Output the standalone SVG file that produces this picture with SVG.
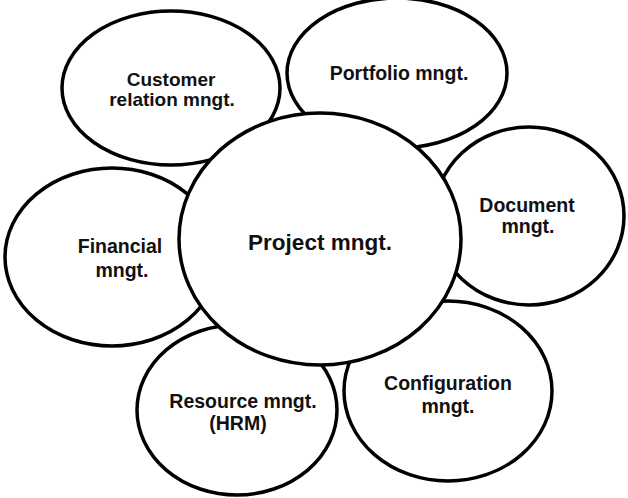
<svg xmlns="http://www.w3.org/2000/svg" width="628" height="498" viewBox="0 0 628 498">
<style>
.n ellipse{fill:#fff;stroke:#000;stroke-width:3.5}
text{font-family:"Liberation Sans",Arial,sans-serif;font-weight:bold;font-size:19.5px;fill:#111;text-anchor:middle}
.big{font-size:22.5px}
.sm{font-size:19px}
</style>
<rect width="628" height="498" fill="#fff"/>
<g id="connectors"></g>
<g id="customer" class="n"><ellipse cx="171" cy="88" rx="109" ry="77"/><text class="sm" x="171" y="86">Customer</text><text class="sm" x="172" y="106">relation mngt.</text></g>
<g id="portfolio" class="n"><ellipse cx="397" cy="73" rx="110" ry="75"/><text x="399" y="80">Portfolio mngt.</text></g>
<g id="document" class="n"><ellipse cx="529" cy="216" rx="95" ry="89"/><text x="527" y="212">Document</text><text x="528" y="233">mngt.</text></g>
<g id="financial" class="n"><ellipse cx="112" cy="257" rx="107" ry="89"/><text x="120" y="253">Financial</text><text x="122" y="277">mngt.</text></g>
<g id="resource" class="n"><ellipse cx="237" cy="410" rx="100" ry="85"/><text x="243" y="408">Resource mngt.</text><text x="238" y="430">(HRM)</text></g>
<g id="configuration" class="n"><ellipse cx="448" cy="391" rx="104" ry="90"/><text x="448" y="390">Configuration</text><text x="448" y="413">mngt.</text></g>
<g id="project" class="n"><ellipse cx="320" cy="239" rx="141" ry="126"/><text class="big" x="320" y="250">Project mngt.</text></g>
</svg>
